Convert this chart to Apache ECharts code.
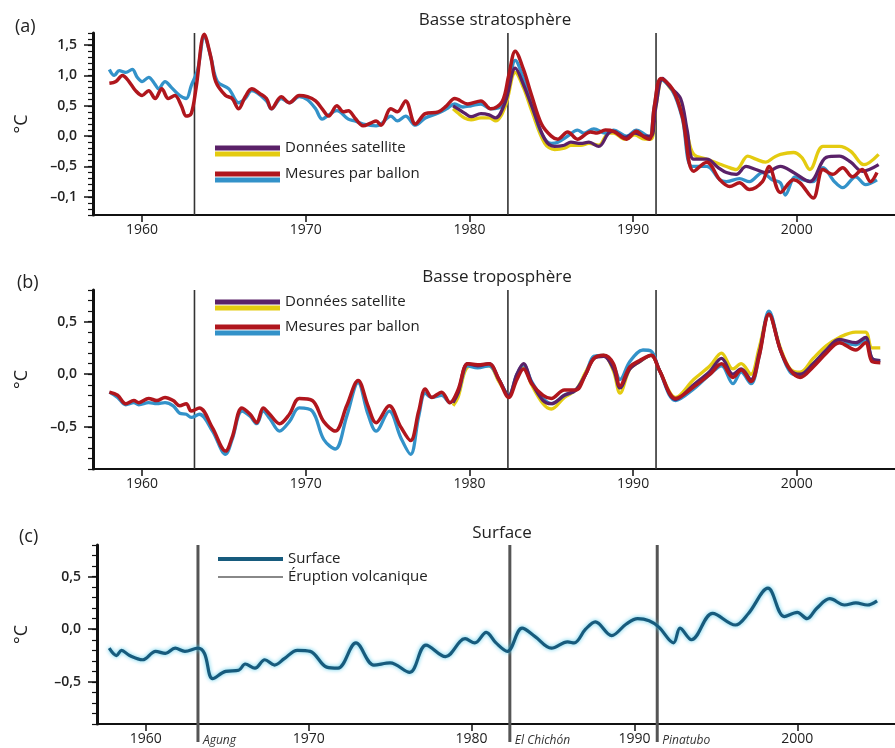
<!DOCTYPE html>
<html><head><meta charset="utf-8">
<script src="https://cdn.jsdelivr.net/npm/echarts@6/dist/echarts.min.js"></script>
<style>html,body{margin:0;padding:0;background:#fff}#c{width:895px;height:748px}</style>
</head><body><div id="c"></div>
<script>
// ---------- ticks / labels ----------
const xTicks = [1960, 1970, 1980, 1990, 2000];
const yTicksA = [-1, -0.5, 0, 0.5, 1, 1.5];
const yLabelsA = ['–0,1', '–0,5', '0,0', '0,5', '1,0', '1,5'];
const yTicksBC = [-0.5, 0, 0.5];
const yLabelsBC = ['–0,5', '0,0', '0,5'];
const eruptionYears = [1963.2, 1982.35, 1991.4];
const eruptionNames = ['Agung', 'El Chichón', 'Pinatubo'];

// ---------- (a) Basse stratosphère ----------
const balloonRedA = [[1958.0,0.87],[1958.4,0.9],[1958.8,1.0],[1959.2,0.9],[1959.6,0.75],[1960.0,0.67],[1960.4,0.75],[1960.8,0.62],[1961.2,0.78],[1961.6,0.62],[1962.0,0.67],[1962.4,0.5],[1962.7,0.33],[1963.0,0.37],[1963.3,0.8],[1963.8,1.68],[1964.2,1.3],[1964.5,0.9],[1965.1,0.67],[1965.5,0.62],[1965.9,0.45],[1966.3,0.65],[1966.7,0.78],[1967.2,0.7],[1967.6,0.62],[1967.9,0.45],[1968.5,0.65],[1969.0,0.55],[1969.6,0.67],[1970.1,0.65],[1970.6,0.58],[1971.0,0.45],[1971.4,0.33],[1971.9,0.5],[1972.3,0.4],[1972.6,0.42],[1973.0,0.3],[1973.5,0.17],[1974.0,0.22],[1974.3,0.25],[1974.6,0.18],[1975.2,0.45],[1975.6,0.4],[1976.1,0.58],[1976.7,0.2],[1977.3,0.37],[1978.1,0.4],[1978.6,0.5],[1979.1,0.62],[1979.9,0.53],[1980.7,0.58],[1981.3,0.45],[1982.0,0.57],[1982.4,1.0],[1982.8,1.4],[1983.3,1.1],[1983.8,0.67],[1984.4,0.2],[1985.0,0.0],[1985.4,-0.05],[1986.0,0.07],[1986.6,-0.05],[1987.4,0.07],[1987.8,0.05],[1988.3,0.1],[1988.8,0.08],[1989.6,-0.05],[1990.2,0.08],[1990.6,0.0],[1991.0,-0.05],[1991.3,0.5],[1991.7,0.95],[1992.4,0.78],[1993.0,0.33],[1993.7,-0.58],[1994.5,-0.43],[1995.3,-0.72],[1995.9,-0.83],[1996.5,-0.77],[1997.1,-0.88],[1997.9,-0.75],[1998.3,-0.5],[1999.0,-0.93],[1999.8,-0.72],[2000.2,-0.77],[2001.0,-1.02],[2001.6,-0.55],[2002.2,-0.63],[2002.8,-0.52],[2003.4,-0.67],[2004.0,-0.55],[2004.5,-0.75],[2004.9,-0.6]];
const balloonBlueA = [[1958.0,1.1],[1958.3,1.0],[1958.6,1.08],[1959.0,1.05],[1959.4,1.1],[1959.7,0.97],[1960.0,0.9],[1960.4,0.97],[1960.8,0.85],[1961.0,0.78],[1961.4,0.9],[1961.8,0.8],[1962.3,0.67],[1962.7,0.62],[1963.0,0.83],[1963.4,1.1],[1963.8,1.65],[1964.2,1.3],[1964.6,0.9],[1965.3,0.78],[1965.9,0.55],[1966.3,0.62],[1966.7,0.75],[1967.6,0.58],[1967.9,0.45],[1968.5,0.62],[1969.0,0.55],[1969.6,0.65],[1970.1,0.6],[1970.6,0.45],[1971.0,0.28],[1971.4,0.35],[1971.9,0.42],[1972.6,0.28],[1973.0,0.25],[1973.5,0.2],[1974.3,0.17],[1974.6,0.2],[1975.2,0.33],[1975.6,0.25],[1976.1,0.33],[1976.7,0.18],[1977.3,0.3],[1978.1,0.38],[1978.6,0.45],[1979.1,0.53],[1979.6,0.48],[1980.1,0.5],[1980.7,0.53],[1981.3,0.45],[1982.0,0.5],[1982.4,0.85],[1982.8,1.25],[1983.3,0.95],[1983.8,0.55],[1984.4,0.05],[1985.0,-0.12],[1985.4,-0.1],[1986.0,0.0],[1986.6,0.1],[1987.0,0.05],[1987.6,0.12],[1988.3,0.05],[1988.8,0.1],[1989.6,0.0],[1990.2,0.1],[1990.6,0.05],[1991.0,-0.02],[1991.3,0.5],[1991.7,0.93],[1992.4,0.75],[1993.0,0.3],[1993.6,-0.5],[1994.5,-0.5],[1995.3,-0.72],[1995.7,-0.75],[1996.5,-0.7],[1997.1,-0.75],[1997.9,-0.6],[1998.5,-0.72],[1999.0,-0.77],[1999.3,-0.97],[1999.9,-0.67],[2000.4,-0.72],[2001.0,-0.75],[2001.6,-0.52],[2002.3,-0.75],[2002.8,-0.85],[2003.6,-0.67],[2004.2,-0.8],[2004.9,-0.72]];
const satPurpleA = [[1979.0,0.5],[1979.3,0.45],[1979.7,0.38],[1980.1,0.32],[1980.7,0.37],[1981.2,0.35],[1981.6,0.3],[1982.2,0.57],[1982.8,1.12],[1983.3,0.85],[1983.8,0.5],[1984.6,-0.05],[1985.2,-0.17],[1985.8,-0.15],[1986.2,-0.1],[1986.8,-0.12],[1987.3,-0.1],[1987.9,-0.17],[1988.5,0.05],[1988.8,0.08],[1989.5,-0.02],[1990.1,0.05],[1990.7,0.0],[1991.1,0.0],[1991.4,0.5],[1991.8,0.95],[1992.3,0.8],[1992.9,0.62],[1993.3,0.1],[1993.7,-0.38],[1994.5,-0.38],[1995.2,-0.52],[1995.7,-0.6],[1996.3,-0.63],[1996.9,-0.5],[1997.5,-0.55],[1998.1,-0.6],[1999.0,-0.5],[1999.8,-0.6],[2000.8,-0.75],[2001.8,-0.35],[2002.6,-0.33],[2003.3,-0.43],[2004.0,-0.58],[2005.0,-0.47]];
const satYellowA = [[1979.0,0.45],[1979.3,0.38],[1979.7,0.3],[1980.1,0.27],[1980.7,0.3],[1981.2,0.3],[1981.6,0.25],[1982.2,0.5],[1982.8,1.05],[1983.3,0.8],[1983.8,0.42],[1984.6,-0.12],[1985.2,-0.22],[1985.8,-0.2],[1986.2,-0.15],[1986.8,-0.15],[1987.3,-0.12],[1987.9,-0.15],[1988.5,0.05],[1988.8,0.05],[1989.5,-0.05],[1990.1,0.02],[1990.7,-0.05],[1991.1,-0.05],[1991.4,0.5],[1991.8,0.93],[1992.3,0.78],[1992.9,0.55],[1993.3,0.05],[1993.7,-0.3],[1994.5,-0.38],[1995.2,-0.45],[1995.7,-0.5],[1996.3,-0.55],[1997.0,-0.33],[1997.5,-0.38],[1998.1,-0.43],[1998.6,-0.35],[1999.0,-0.3],[1999.8,-0.27],[2000.3,-0.35],[2000.8,-0.55],[2001.6,-0.17],[2002.6,-0.17],[2003.3,-0.25],[2004.1,-0.47],[2005.0,-0.3]];

// ---------- (b) Basse troposphère ----------
const balloonRedB = [[1958.0,-0.17],[1958.5,-0.2],[1959.0,-0.28],[1959.5,-0.25],[1959.8,-0.27],[1960.4,-0.23],[1960.9,-0.25],[1961.4,-0.22],[1961.9,-0.25],[1962.3,-0.3],[1962.7,-0.28],[1963.0,-0.35],[1963.5,-0.32],[1964.3,-0.51],[1965.1,-0.73],[1965.5,-0.6],[1966.1,-0.32],[1966.6,-0.38],[1967.0,-0.46],[1967.4,-0.32],[1967.8,-0.38],[1968.4,-0.47],[1969.0,-0.38],[1969.6,-0.23],[1970.4,-0.25],[1971.1,-0.45],[1971.8,-0.54],[1972.5,-0.3],[1973.2,-0.06],[1973.8,-0.3],[1974.3,-0.46],[1975.1,-0.3],[1975.8,-0.5],[1976.4,-0.63],[1976.9,-0.35],[1977.3,-0.14],[1977.7,-0.22],[1978.3,-0.17],[1978.8,-0.27],[1979.3,-0.15],[1979.9,0.1],[1980.5,0.09],[1981.2,0.1],[1981.8,-0.05],[1982.4,-0.22],[1982.9,-0.05],[1983.3,0.05],[1983.8,-0.09],[1984.5,-0.2],[1985.0,-0.23],[1985.8,-0.15],[1986.5,-0.15],[1987.1,0.0],[1987.6,0.15],[1988.2,0.18],[1988.8,0.1],[1989.2,-0.11],[1989.8,0.07],[1990.4,0.13],[1991.1,0.18],[1991.6,0.04],[1992.6,-0.23],[1993.7,-0.12],[1994.7,0.0],[1995.4,0.1],[1996.1,-0.03],[1996.6,0.04],[1997.2,-0.07],[1997.7,0.17],[1998.3,0.57],[1999.0,0.23],[1999.6,0.04],[2000.2,-0.03],[2001.0,0.07],[2001.8,0.2],[2002.6,0.3],[2003.6,0.23],[2004.2,0.3],[2004.6,0.12],[2005.1,0.11]];
const balloonBlueB = [[1958.0,-0.17],[1958.5,-0.22],[1959.0,-0.29],[1959.5,-0.27],[1959.8,-0.29],[1960.4,-0.27],[1960.9,-0.28],[1961.4,-0.27],[1961.9,-0.3],[1962.3,-0.37],[1962.7,-0.38],[1963.0,-0.41],[1963.5,-0.38],[1964.3,-0.54],[1965.1,-0.76],[1965.5,-0.62],[1966.1,-0.35],[1966.6,-0.4],[1967.0,-0.47],[1967.4,-0.35],[1967.8,-0.42],[1968.4,-0.54],[1969.0,-0.45],[1969.6,-0.32],[1970.4,-0.35],[1971.1,-0.62],[1971.8,-0.71],[1972.5,-0.4],[1973.2,-0.08],[1973.8,-0.38],[1974.3,-0.54],[1975.1,-0.35],[1975.8,-0.6],[1976.4,-0.76],[1976.9,-0.4],[1977.3,-0.18],[1977.7,-0.22],[1978.3,-0.2],[1978.8,-0.27],[1979.3,-0.17],[1979.9,0.08],[1980.5,0.06],[1981.2,0.08],[1981.8,-0.05],[1982.4,-0.2],[1982.9,0.0],[1983.3,0.09],[1983.8,-0.07],[1984.5,-0.23],[1985.0,-0.28],[1985.8,-0.2],[1986.5,-0.15],[1987.1,0.0],[1987.6,0.17],[1988.2,0.18],[1988.8,0.08],[1989.2,-0.05],[1989.8,0.12],[1990.6,0.23],[1991.1,0.22],[1991.6,0.04],[1992.6,-0.25],[1993.7,-0.14],[1994.7,0.0],[1995.4,0.08],[1996.1,-0.09],[1996.6,0.02],[1997.2,-0.09],[1997.7,0.17],[1998.3,0.6],[1999.0,0.23],[1999.6,0.02],[2000.2,-0.01],[2001.0,0.1],[2001.8,0.22],[2002.6,0.3],[2003.6,0.28],[2004.2,0.33],[2004.6,0.15],[2005.1,0.13]];
const satPurpleB = [[1979.0,-0.27],[1979.3,-0.18],[1979.9,0.1],[1980.5,0.08],[1981.2,0.1],[1981.8,-0.05],[1982.4,-0.2],[1982.9,0.0],[1983.3,0.1],[1983.8,-0.08],[1984.5,-0.25],[1985.0,-0.28],[1985.8,-0.2],[1986.5,-0.15],[1987.1,0.0],[1987.6,0.15],[1988.2,0.17],[1988.8,0.05],[1989.2,-0.13],[1989.8,0.05],[1990.4,0.12],[1991.1,0.18],[1991.6,0.04],[1992.6,-0.24],[1993.7,-0.1],[1994.7,0.03],[1995.4,0.15],[1996.1,0.0],[1996.6,0.05],[1997.2,-0.05],[1997.7,0.2],[1998.3,0.57],[1999.0,0.23],[1999.6,0.04],[2000.2,0.0],[2001.0,0.1],[2001.8,0.23],[2002.6,0.33],[2003.6,0.3],[2004.2,0.35],[2004.6,0.15],[2005.1,0.13]];
const satYellowB = [[1979.0,-0.3],[1979.3,-0.22],[1979.9,0.07],[1980.5,0.08],[1981.2,0.08],[1981.8,-0.07],[1982.4,-0.2],[1982.9,-0.02],[1983.3,0.07],[1983.8,-0.1],[1984.5,-0.28],[1985.0,-0.33],[1985.8,-0.22],[1986.5,-0.15],[1987.1,0.02],[1987.6,0.15],[1988.2,0.18],[1988.8,0.03],[1989.2,-0.18],[1989.8,0.05],[1990.4,0.12],[1991.1,0.18],[1991.6,0.04],[1992.6,-0.22],[1993.7,-0.05],[1994.7,0.08],[1995.4,0.2],[1996.1,0.05],[1996.6,0.1],[1997.2,0.0],[1997.7,0.25],[1998.3,0.57],[1999.0,0.25],[1999.6,0.05],[2000.2,0.02],[2001.0,0.15],[2001.8,0.27],[2002.6,0.35],[2003.6,0.4],[2004.2,0.4],[2004.6,0.25],[2005.1,0.25]];

// ---------- (c) Surface ----------
const surfaceC = [[1957.75,-0.18],[1958.2,-0.25],[1958.5,-0.2],[1959.0,-0.25],[1959.8,-0.29],[1960.6,-0.21],[1961.2,-0.23],[1961.8,-0.18],[1962.4,-0.21],[1963.2,-0.18],[1963.6,-0.23],[1964.1,-0.47],[1964.9,-0.4],[1965.7,-0.39],[1966.1,-0.33],[1966.7,-0.37],[1967.3,-0.29],[1967.9,-0.34],[1968.5,-0.28],[1969.3,-0.2],[1970.1,-0.21],[1971.1,-0.36],[1971.8,-0.37],[1972.9,-0.13],[1974.0,-0.34],[1975.0,-0.32],[1976.2,-0.41],[1977.2,-0.15],[1978.4,-0.26],[1979.6,-0.09],[1980.2,-0.13],[1980.9,-0.03],[1981.5,-0.13],[1982.2,-0.21],[1983.1,0.01],[1983.9,-0.07],[1984.9,-0.18],[1985.9,-0.12],[1986.3,-0.13],[1987.0,0.0],[1987.6,0.07],[1988.6,-0.06],[1989.5,0.05],[1990.2,0.1],[1990.9,0.08],[1991.5,0.02],[1992.4,-0.13],[1992.8,0.01],[1993.5,-0.1],[1994.8,0.15],[1996.2,0.04],[1997.0,0.15],[1998.2,0.39],[1999.2,0.12],[2000.0,0.16],[2000.6,0.1],[2001.2,0.2],[2002.0,0.29],[2002.9,0.23],[2003.6,0.25],[2004.3,0.23],[2004.9,0.27]];

// ---------- styles ----------
const FONT = '"Open Sans", "Noto Sans", sans-serif';
const C_RED = '#b0161d', C_BLUE = '#3392c9', C_PURPLE = '#5a2168', C_YELLOW = '#e4cb10', C_SURF = '#175b7d';

const grids = [
  { left: 93, top: 33, width: 804, height: 182 },
  { left: 93, top: 290, width: 804, height: 179 },
  { left: 97, top: 545, width: 804, height: 179 }
];
const yRanges = [[-1.3, 1.7], [-0.9, 0.8], [-0.9, 0.8]];
const yTickSets = [[yTicksA, yLabelsA], [yTicksBC, yLabelsBC], [yTicksBC, yLabelsBC]];

function fmt(vals, texts) {
  return v => { const i = vals.findIndex(t => Math.abs(t - v) < 1e-6); return i >= 0 ? texts[i] : ''; };
}

const xAxis = grids.map((g, i) => ({
  type: 'value', gridIndex: i, min: 1957, max: 2006,
  axisLine: { onZero: false, lineStyle: { color: '#111', width: 2 } },
  axisTick: { customValues: xTicks, length: 7, lineStyle: { color: '#111', width: 1.5 } },
  axisLabel: { customValues: xTicks, formatter: v => String(v), color: '#222', fontSize: 14, fontFamily: FONT, margin: 8 },
  splitLine: { show: false }
}));

const yAxis = [];
grids.forEach((g, i) => {
  yAxis.push({
    type: 'value', gridIndex: i, position: 'left', min: yRanges[i][0], max: yRanges[i][1],
    name: '°C', nameLocation: 'middle', nameGap: i === 2 ? 66 : 62, nameRotate: 90,
    nameTextStyle: { fontSize: 18, color: '#222', fontFamily: FONT },
    axisLine: { show: true, onZero: false, lineStyle: { color: '#111', width: 3 } },
    axisTick: { customValues: yTickSets[i][0], length: 9, lineStyle: { color: '#111', width: 1.5 } },
    axisLabel: { customValues: yTickSets[i][0], formatter: fmt(yTickSets[i][0], yTickSets[i][1]), color: '#222', fontSize: 14, fontWeight: 600, fontFamily: FONT, margin: 16 },
    splitLine: { show: false }
  });
});
grids.forEach((g, i) => {
  yAxis.push({
    type: 'value', gridIndex: i, position: 'left', offset: 0, min: yRanges[i][0], max: yRanges[i][1], interval: 0.1,
    axisLine: { show: false, onZero: false },
    axisTick: { show: true, length: 5, lineStyle: { color: '#111', width: 1.2 } },
    axisLabel: { show: false }, splitLine: { show: false }
  });
});

function lineSeries(name, data, gi, color, width, z, extra) {
  return Object.assign({
    type: 'line', name, data, xAxisIndex: gi, yAxisIndex: gi,
    color, showSymbol: false, symbol: 'none', smooth: 0.35, z, silent: true,
    lineStyle: { color, width }
  }, extra || {});
}

function eruptionSeries(gi, ext, width, color, withLabels) {
  const [yMin, yMax] = yRanges[gi];
  return {
    type: 'custom', name: 'Éruption volcanique', coordinateSystem: 'cartesian2d',
    xAxisIndex: gi, yAxisIndex: gi, clip: false, silent: true, z: 1, color,
    data: eruptionYears.map(y => [y, 0]),
    renderItem(params, api) {
      const x = api.value(0);
      const p1 = api.coord([x, yMax]);
      const p2 = api.coord([x, yMin]);
      const children = [{ type: 'line', shape: { x1: p1[0], y1: p1[1], x2: p2[0], y2: p2[1] + ext }, style: { stroke: color, lineWidth: width } }];
      if (withLabels) {
        children.push({ type: 'text', style: { text: eruptionNames[params.dataIndex], x: p2[0] + 5, y: p2[1] + 17, fill: '#333', font: 'italic 12px ' + FONT, verticalAlign: 'middle', align: 'left' } });
      }
      return { type: 'group', children };
    }
  };
}

const series = [
  eruptionSeries(0, 0, 1.6, '#333', false),
  lineSeries('Données satellite (jaune)', satYellowA, 0, C_YELLOW, 3.3, 2),
  lineSeries('Mesures par ballon (bleu)', balloonBlueA, 0, C_BLUE, 3.3, 3),
  lineSeries('Données satellite', satPurpleA, 0, C_PURPLE, 3.3, 4),
  lineSeries('Mesures par ballon', balloonRedA, 0, C_RED, 3.5, 5),
  eruptionSeries(1, 0, 1.6, '#333', false),
  lineSeries('Données satellite (jaune)', satYellowB, 1, C_YELLOW, 3.3, 2),
  lineSeries('Mesures par ballon (bleu)', balloonBlueB, 1, C_BLUE, 3.3, 3),
  lineSeries('Données satellite', satPurpleB, 1, C_PURPLE, 3.3, 4),
  lineSeries('Mesures par ballon', balloonRedB, 1, C_RED, 3.5, 5),
  eruptionSeries(2, 18, 3, '#555', true),
  lineSeries('Surface', surfaceC, 2, C_SURF, 3.2, 5, { lineStyle: { color: C_SURF, width: 3.2, shadowColor: '#59cbe9', shadowBlur: 4 } })
];

function leg(name, color, left, cy, showText, h) {
  return {
    left, top: cy - 9, orient: 'horizontal', padding: 0, itemWidth: 65, itemHeight: h,
    icon: 'rect', selectedMode: false,
    data: [{ name, itemStyle: { color } }],
    formatter: showText ? (n => n.replace(/ \(.*\)$/, '')) : (() => ' '),
    textStyle: { fontSize: 15, color: '#222', fontFamily: FONT, lineHeight: 18 }
  };
}

const legend = [
  leg('Données satellite', C_PURPLE, 215, 148, true, 5),
  leg('Données satellite (jaune)', C_YELLOW, 215, 154, false, 5),
  leg('Mesures par ballon', C_RED, 215, 174, true, 5),
  leg('Mesures par ballon (bleu)', C_BLUE, 215, 180, false, 5),
  leg('Données satellite', C_PURPLE, 215, 302, true, 5),
  leg('Données satellite (jaune)', C_YELLOW, 215, 308, false, 5),
  leg('Mesures par ballon', C_RED, 215, 327, true, 5),
  leg('Mesures par ballon (bleu)', C_BLUE, 215, 333, false, 5),
  leg('Surface', C_SURF, 218, 559, true, 4),
  leg('Éruption volcanique', '#888', 218, 577, true, 2)
];

const tStyle = { fontSize: 17, fontWeight: 'normal', color: '#222', fontFamily: FONT };
const title = [
  { text: '(a)', left: 10, top: 13, textStyle: Object.assign({}, tStyle, { fontSize: 18 }) },
  { text: 'Basse stratosphère', left: 490, top: 7, textAlign: 'center', textStyle: tStyle },
  { text: '(b)', left: 12, top: 269, textStyle: Object.assign({}, tStyle, { fontSize: 18 }) },
  { text: 'Basse troposphère', left: 492, top: 264, textAlign: 'center', textStyle: tStyle },
  { text: '(c)', left: 14, top: 523, textStyle: Object.assign({}, tStyle, { fontSize: 18 }) },
  { text: 'Surface', left: 497, top: 520, textAlign: 'center', textStyle: tStyle }
];

const chart = echarts.init(document.getElementById('c'), null, { renderer: 'canvas' });
chart.setOption({
  backgroundColor: '#fff', animation: false,
  title, legend, grid: grids, xAxis, yAxis, series
});
</script>
</body></html>
